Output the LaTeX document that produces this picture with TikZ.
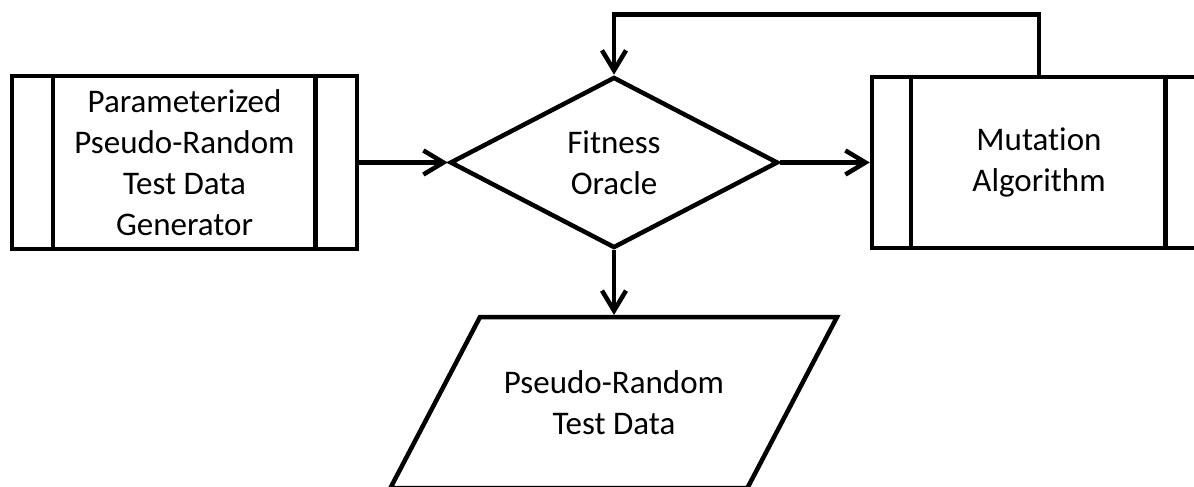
\documentclass[tikz,border=0pt]{standalone}
\usepackage{fontspec}
\setmainfont[RawFeature={-liga;-clig;-calt;-dlig}]{Carlito}
\usetikzlibrary{arrows.meta,shapes.geometric}
% keeps "t" and "i" as separate glyphs
\newcommand{\nolig}{\kern0pt{}}
\begin{document}
\begin{tikzpicture}[x=1pt,y=-1pt,
  every node/.style={font=\fontsize{33}{41}\selectfont, align=center, text=black},
  line/.style={line width=4.5pt, draw=black},
  flow/.style={line, -{Straight Barb[length=20pt,width=24pt,line width=4.5pt]}},
  procbox/.style={line, rectangle, inner sep=0pt},
  decision/.style={line, diamond, inner sep=0pt, aspect=1.92,
    minimum width=328pt, minimum height=171pt}]
  \useasboundingbox (0,0) rectangle (1194,487);
  \clip (0,0) rectangle (1194,487);
  \fill[white] (0,0) rectangle (1194,487);

  % predefined-process boxes with their side strips
  \node[procbox, minimum width=345pt, minimum height=173pt] (gen) at (184.5,162.5)
    {Parameterized\\Pseudo-Random\\Test Data\\Generator};
  \draw[line] ([xshift=43pt]gen.north west) -- ([xshift=43pt]gen.south west);
  \draw[line] ([xshift=-44pt]gen.north east) -- ([xshift=-44pt]gen.south east);

  \node[procbox, minimum width=334pt, minimum height=171pt] (mut) at (1039,162.5)
    {Mutat\nolig ion\\Algorithm};
  \draw[line] ([xshift=41pt]mut.north west) -- ([xshift=41pt]mut.south west);
  \draw[line] ([xshift=-43pt]mut.north east) -- ([xshift=-43pt]mut.south east);

  % decision
  \node[decision] (fit) at (614,162.5) {Fitness\\Oracle};

  % data (parallelogram)
  \draw[line] (480,317) -- (837,317) -- (747.4,488) -- (390.4,488) -- cycle;
  \node (data) at (614,403) {Pseudo-Random\\Test Data};
  \coordinate (datatop) at (614,315);

  % connectors
  \draw[flow] (gen.east) -- (fit.west);
  \draw[flow] (fit.east) -- (mut.west);
  \draw[flow] (fit.south) -- (datatop);
  \draw[flow] (mut.north) -- ++(0,-60) -| (fit.north);
\end{tikzpicture}
\end{document}
